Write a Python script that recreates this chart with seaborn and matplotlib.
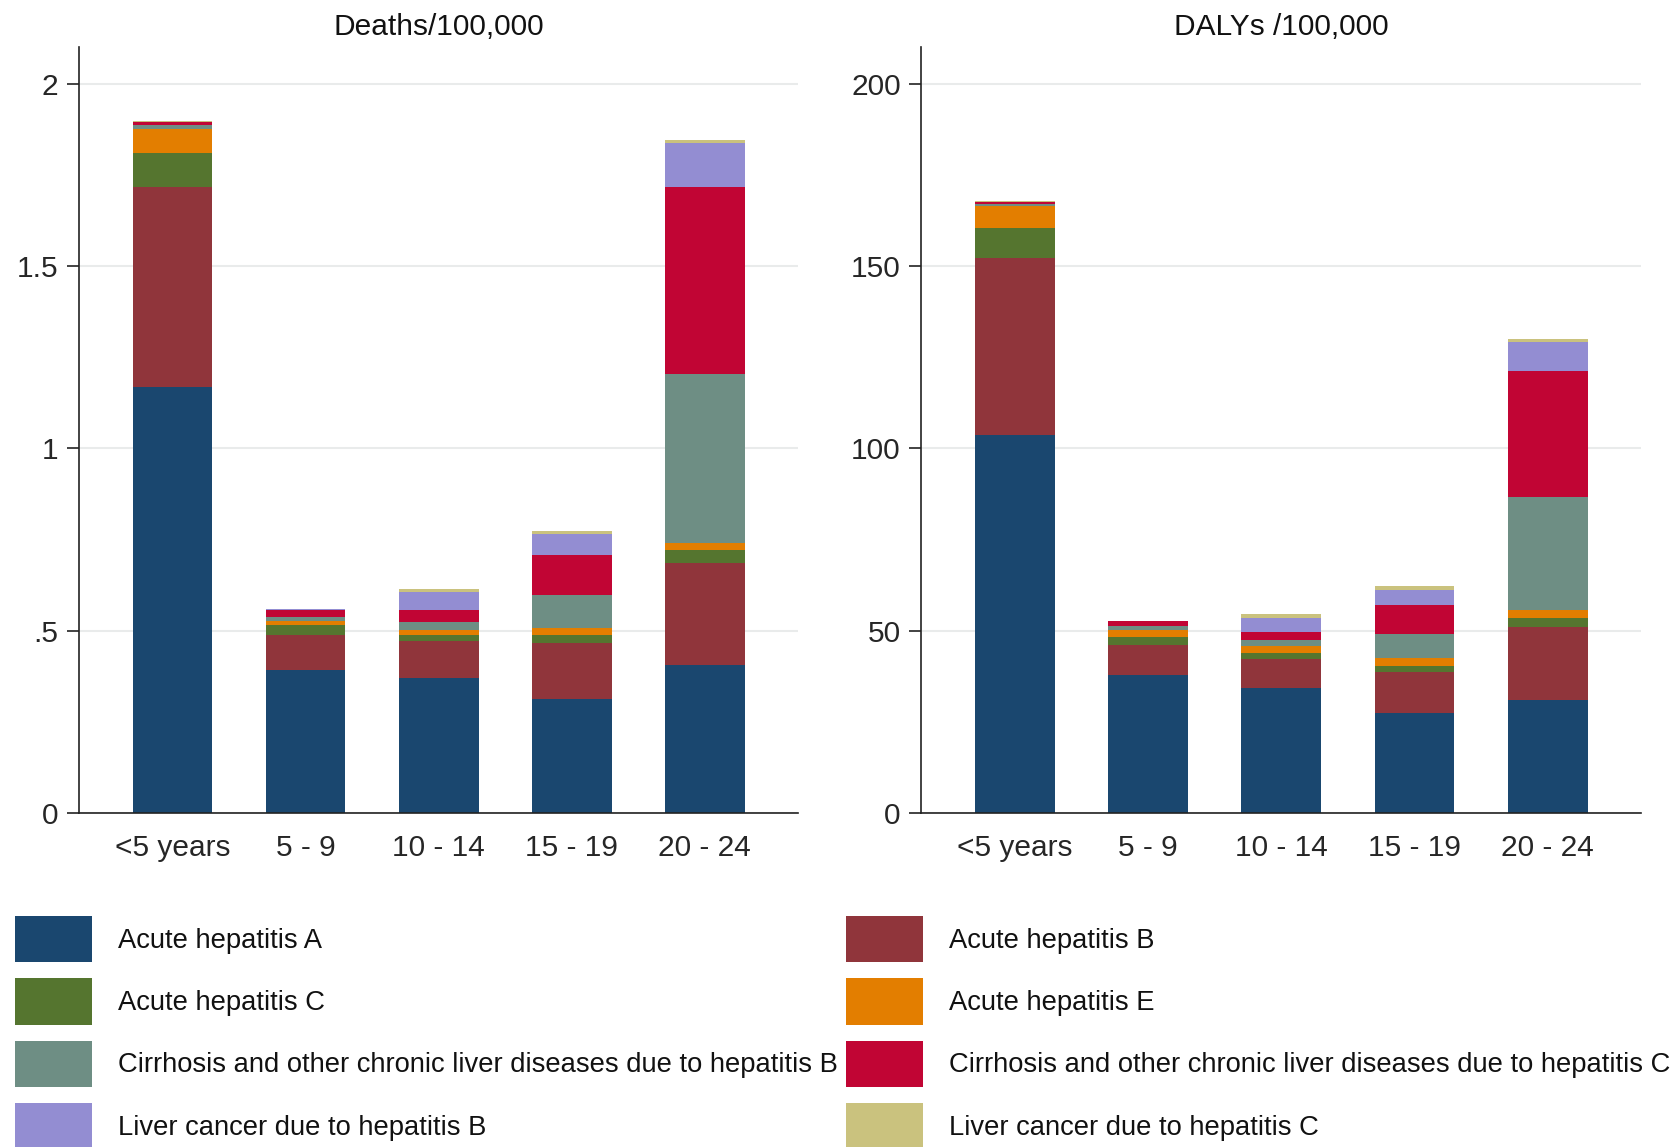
import matplotlib
matplotlib.use("Agg")
import matplotlib.pyplot as plt
from matplotlib.patches import Patch
import numpy as np
import pandas as pd
import seaborn as sns

# ---------------- data ----------------
categories = ["<5 years", "5 - 9", "10 - 14", "15 - 19", "20 - 24"]

series_names = [
    "Acute hepatitis A",
    "Acute hepatitis B",
    "Acute hepatitis C",
    "Acute hepatitis E",
    "Cirrhosis and other chronic liver diseases due to hepatitis B",
    "Cirrhosis and other chronic liver diseases due to hepatitis C",
    "Liver cancer due to hepatitis B",
    "Liver cancer due to hepatitis C",
]

deaths_hep_a = [1.167, 0.393, 0.370, 0.313, 0.407]
deaths_hep_b = [0.548, 0.096, 0.101, 0.153, 0.279]
deaths_hep_c = [0.094, 0.026, 0.018, 0.023, 0.036]
deaths_hep_e = [0.066, 0.013, 0.012, 0.019, 0.019]
deaths_cirr_b = [0.011, 0.011, 0.022, 0.089, 0.464]
deaths_cirr_c = [0.008, 0.019, 0.033, 0.112, 0.510]
deaths_lc_b = [0.001, 0.001, 0.051, 0.056, 0.122]
deaths_lc_c = [0.001, 0.0005, 0.008, 0.008, 0.009]

dalys_hep_a = [103.8, 37.9, 34.3, 27.4, 30.9]
dalys_hep_b = [48.3, 8.3, 8.0, 11.2, 20.1]
dalys_hep_c = [8.2, 2.2, 1.6, 1.8, 2.5]
dalys_hep_e = [6.2, 1.7, 1.8, 2.1, 2.3]
dalys_cirr_b = [0.4, 1.1, 1.8, 6.7, 30.8]
dalys_cirr_c = [0.5, 1.4, 2.3, 8.0, 34.6]
dalys_lc_b = [0.2, 0.1, 3.7, 3.9, 8.0]
dalys_lc_c = [0.1, 0.05, 1.2, 1.1, 0.9]

deaths_ticks = [0, 0.5, 1, 1.5, 2]
deaths_tick_labels = ["0", ".5", "1", "1.5", "2"]
dalys_ticks = [0, 50, 100, 150, 200]
dalys_tick_labels = ["0", "50", "100", "150", "200"]

panel_titles = ["Deaths/100,000", "DALYs /100,000"]

colors = ["#1a476f", "#90353b", "#55752f", "#e37e00",
          "#6e8e84", "#c10534", "#938dd2", "#cac27e"]

# ---------------- style ----------------
sns.set_style("white")
plt.rcParams["font.family"] = ["Liberation Sans", "DejaVu Sans"]
plt.rcParams["text.color"] = "#111111"

fig = plt.figure(figsize=(16.8, 11.47), dpi=100)
ax1 = fig.add_axes([0.0472, 0.291, 0.4278, 0.668])
ax2 = fig.add_axes([0.5485, 0.291, 0.4283, 0.668])

deaths_series = [deaths_hep_a, deaths_hep_b, deaths_hep_c, deaths_hep_e,
                 deaths_cirr_b, deaths_cirr_c, deaths_lc_b, deaths_lc_c]
dalys_series = [dalys_hep_a, dalys_hep_b, dalys_hep_c, dalys_hep_e,
                dalys_cirr_b, dalys_cirr_c, dalys_lc_b, dalys_lc_c]


def stacked(ax, series, ticks, tick_labels, ylim, title):
    df = pd.DataFrame(np.array(series).T, columns=series_names)
    df.insert(0, "age", categories)
    cum = df[series_names].cumsum(axis=1)
    # draw from the top layer down so lower layers cover the cumulative total
    for name, col in zip(series_names[::-1], colors[::-1]):
        sns.barplot(x=df["age"], y=cum[name], color=col, saturation=1,
                    width=0.6, errorbar=None, linewidth=0, edgecolor="none",
                    order=categories, ax=ax)
    ax.set_xlim(-0.7, len(categories) - 0.3)
    ax.set_ylim(*ylim)
    ax.set_yticks(ticks)
    ax.set_yticklabels(tick_labels)
    ax.set_xlabel("")
    ax.set_ylabel("")
    ax.yaxis.grid(True, color="#e9ebeb", linewidth=1.5)
    ax.xaxis.grid(False)
    ax.set_axisbelow(True)
    for s in ["top", "right"]:
        ax.spines[s].set_visible(False)
    for s in ["left", "bottom"]:
        ax.spines[s].set_color("#222222")
        ax.spines[s].set_linewidth(1.2)
    ax.tick_params(axis="y", direction="out", length=9, width=1.2,
                   color="#222222", labelsize=21.5, pad=6, left=True)
    ax.tick_params(axis="x", length=0, labelsize=21.5, pad=15)
    ax.set_title(title, fontsize=21.5, pad=9)


stacked(ax1, deaths_series, deaths_ticks, deaths_tick_labels, (0, 2.1), panel_titles[0])
stacked(ax2, dalys_series, dalys_ticks, dalys_tick_labels, (0, 210), panel_titles[1])

# ---------------- legend (two columns) ----------------
handles = [Patch(facecolor=c, edgecolor="none") for c in colors]
left_idx = [0, 2, 4, 6]
right_idx = [1, 3, 5, 7]
common = dict(loc="upper left", frameon=False, fontsize=19.7, borderpad=0,
              handlelength=2.81, handleheight=2.22, handletextpad=0.95,
              labelspacing=0.59, borderaxespad=0)
fig.legend([handles[i] for i in left_idx], [series_names[i] for i in left_idx],
           bbox_to_anchor=(0.0089, 0.2014), **common)
fig.legend([handles[i] for i in right_idx], [series_names[i] for i in right_idx],
           bbox_to_anchor=(0.5036, 0.2014), **common)

fig.savefig("out.png", dpi=100)
